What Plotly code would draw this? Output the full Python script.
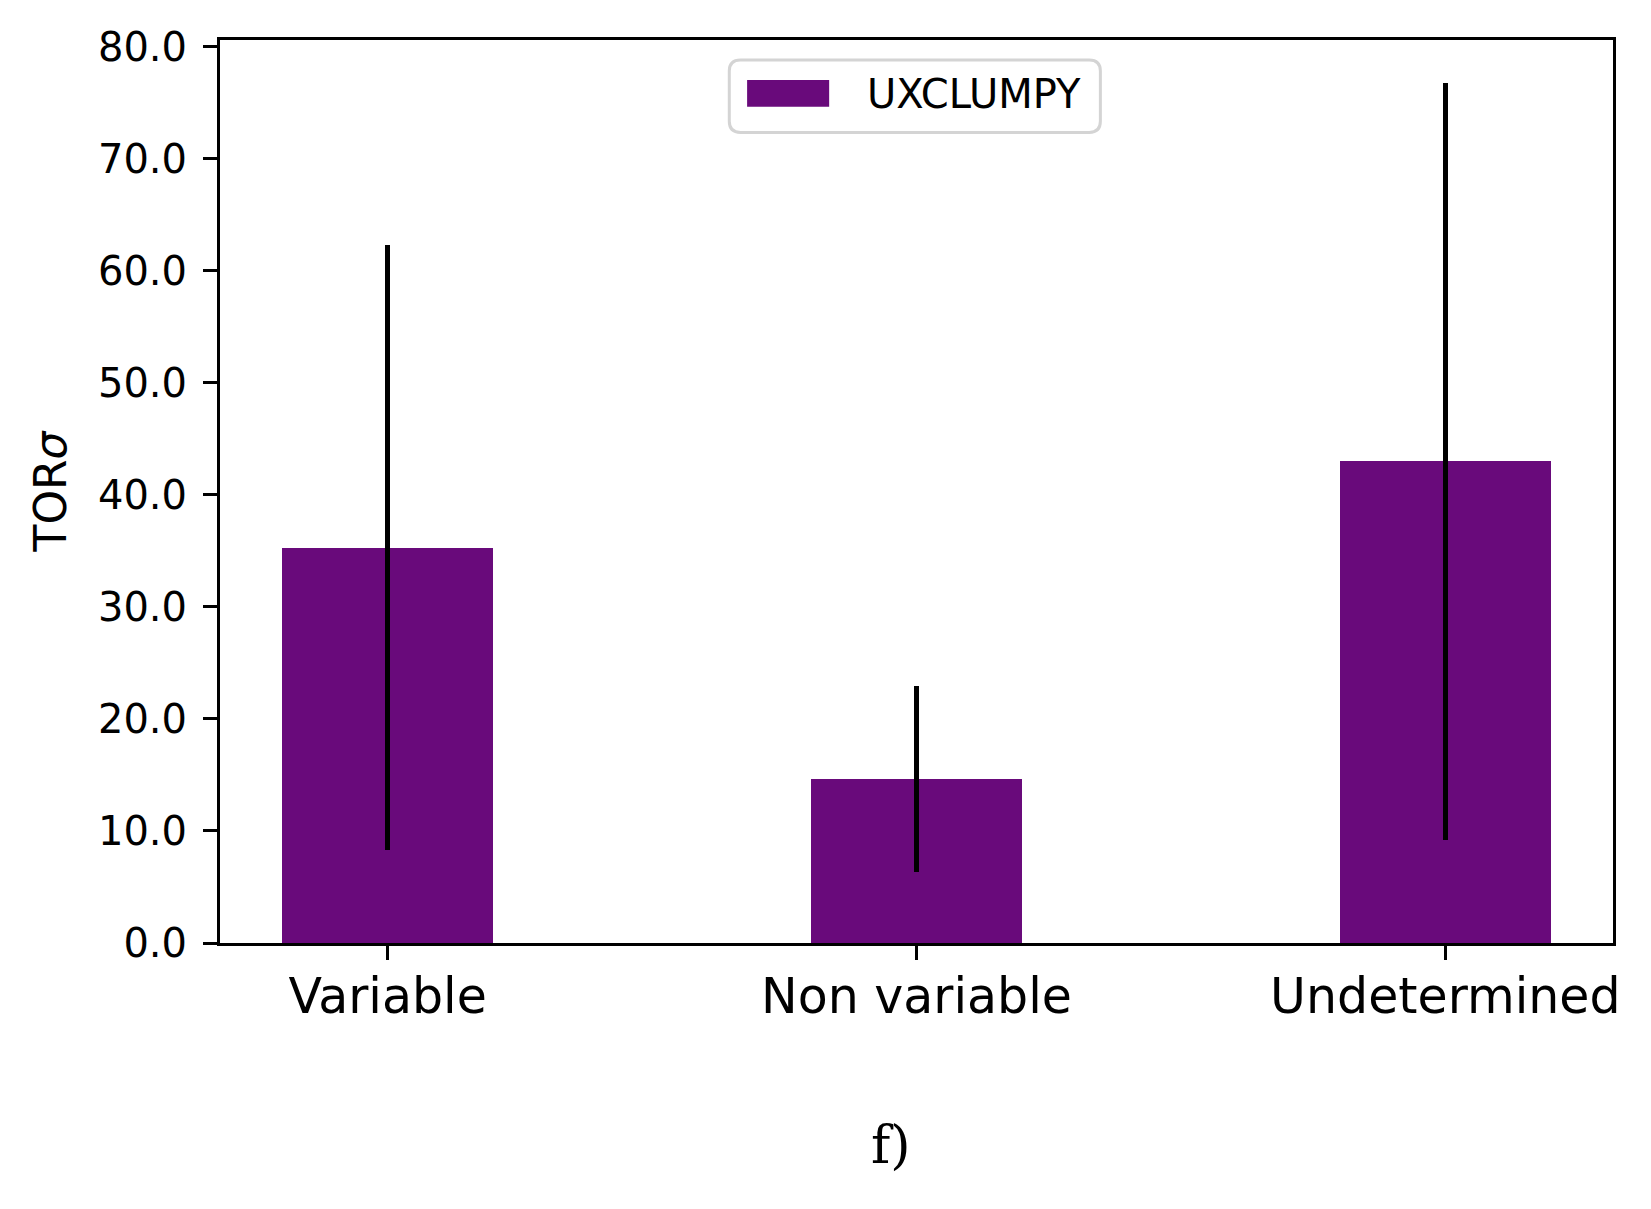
import plotly.graph_objects as go

categories = ['Variable', 'Non variable', 'Undetermined']
tor_sigma = [35.3, 14.6, 43.0]
tor_sigma_err = [27.0, 8.3, 33.8]
series_name = 'UXCLUMPY'
y_ticks = [0, 10, 20, 30, 40, 50, 60, 70, 80]
panel_label = 'f)'

BAR_COLOR = '#690a7b'
FONT = 'DejaVu Sans'

fig = go.Figure()
fig.add_trace(
    go.Bar(
        x=categories,
        y=tor_sigma,
        width=0.4,
        name=series_name,
        marker={'color': BAR_COLOR, 'line': {'width': 0}},
        error_y={
            'type': 'data',
            'array': tor_sigma_err,
            'visible': True,
            'color': 'black',
            'thickness': 5.5,
            'width': 0,
        },
        showlegend=False,
    )
)

# legend drawn by hand, matplotlib style (wide patch, rounded grey frame)
lx0, lx1, ly0, ly1 = 0.3656, 0.632, 0.8976, 0.9779
r = 0.008
fig.add_shape(
    type='path',
    xref='paper', yref='paper',
    path=(
        f'M {lx0 + r},{ly0} L {lx1 - r},{ly0} Q {lx1},{ly0} {lx1},{ly0 + r * 1.54} '
        f'L {lx1},{ly1 - r * 1.54} Q {lx1},{ly1} {lx1 - r},{ly1} '
        f'L {lx0 + r},{ly1} Q {lx0},{ly1} {lx0},{ly1 - r * 1.54} '
        f'L {lx0},{ly0 + r * 1.54} Q {lx0},{ly0} {lx0 + r},{ly0} Z'
    ),
    line={'color': '#d4d4d4', 'width': 3},
    fillcolor='rgba(255,255,255,0.8)',
    layer='above',
)
fig.add_shape(
    type='rect', xref='paper', yref='paper',
    x0=0.3784, x1=0.4373, y0=0.926, y1=0.9558,
    line={'width': 0}, fillcolor=BAR_COLOR, layer='above',
)
fig.add_annotation(
    text=series_name, xref='paper', yref='paper', x=0.463, y=0.9406,
    xanchor='left', yanchor='middle', showarrow=False,
    font={'family': FONT, 'size': 40, 'color': 'black'},
)

fig.add_annotation(
    text=panel_label, xref='paper', yref='paper', x=0.482, y=-0.224,
    xanchor='center', yanchor='middle', showarrow=False,
    font={'family': 'DejaVu Serif', 'size': 52, 'color': 'black'},
)

axis_common = {
    'showline': True,
    'linecolor': 'black',
    'linewidth': 3,
    'mirror': True,
    'ticks': 'outside',
    'ticklen': 14,
    'tickwidth': 3.3,
    'tickcolor': 'black',
    'showgrid': False,
    'zeroline': False,
}

fig.update_layout(
    width=1651,
    height=1209,
    paper_bgcolor='white',
    plot_bgcolor='white',
    margin={'l': 212, 'r': 46, 't': 32, 'b': 274},
    font={'family': FONT, 'color': 'black'},
    bargap=0,
    xaxis={
        **axis_common,
        'type': 'category',
        'range': [-0.317, 2.317],
        'tickfont': {'size': 49},
        'ticklabelstandoff': -6,
    },
    yaxis={
        **axis_common,
        'range': [0, 80.6],
        'tickvals': y_ticks,
        'tickformat': '.1f',
        'tickfont': {'size': 40},
        'ticklabelstandoff': 8,
        'title': {'text': 'TOR<i>σ</i>', 'font': {'size': 44}, 'standoff': 18},
    },
)

fig.write_html('out.html')
